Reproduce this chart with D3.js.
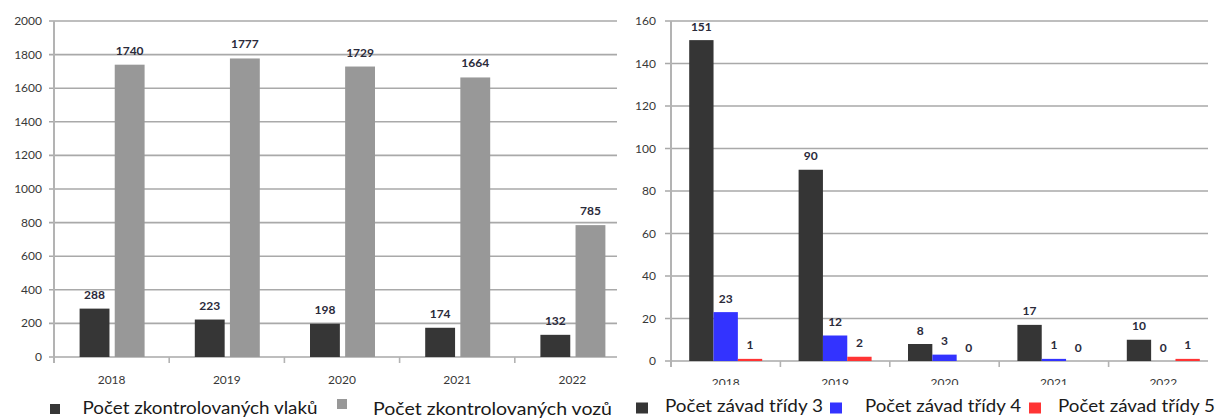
<!DOCTYPE html>
<html>
<head>
<meta charset="utf-8">
<script src="https://cdn.jsdelivr.net/npm/d3@7"></script>
<style>
  html, body { margin: 0; padding: 0; background: #fff; }
  svg { display: block; font-family: Lato, "Open Sans", sans-serif; }
</style>
</head>
<body>
<svg id="chart" width="1218" height="418"></svg>
<script>
// ---- data ----
const years = ["2018", "2019", "2020", "2021", "2022"];

// inspections: trains and wagons checked
const inspectSeries = ["Počet zkontrolovaných vlaků", "Počet zkontrolovaných vozů"];
const trainsChecked = [288, 223, 198, 174, 132];
const wagonsChecked = [1740, 1777, 1729, 1664, 785];
const inspectTicks = [0, 200, 400, 600, 800, 1000, 1200, 1400, 1600, 1800, 2000];

// defects by class
const defectSeries = ["Počet závad třídy 3", "Počet závad třídy 4", "Počet závad třídy 5"];
const defectsClass3 = [151, 90, 8, 17, 10];
const defectsClass4 = [23, 12, 3, 1, 0];
const defectsClass5 = [1, 2, 0, 0, 1];
const defectTicks = [0, 20, 40, 60, 80, 100, 120, 140, 160];

const svg = d3.select("#chart");
const GRID = "#a9a9a9", AXIS = "#b3b3b3", TXT = "#383838", LBL = "#2a2a3a";

// ================= left panel: inspections =================
{
  const left = 54, right = 630, gridEnd = 617, top = 21, bottom = 357;
  const x0 = d3.scaleBand().domain(years).range([left, right]);
  const y = d3.scaleLinear().domain([0, 2000]).range([bottom, top]);
  const colors = ["#363636", "#989898"];
  const values = [trainsChecked, wagonsChecked];
  const g = svg.append("g");

  // gridlines + tick labels
  g.selectAll("line.grid").data(inspectTicks).join("line")
    .attr("x1", left - 5).attr("x2", gridEnd)
    .attr("y1", d => y(d)).attr("y2", d => y(d))
    .attr("stroke", GRID).attr("stroke-width", 1.6);
  g.selectAll("text.yt").data(inspectTicks).join("text")
    .attr("x", 42).attr("y", d => y(d) + 4)
    .attr("text-anchor", "end").attr("font-size", 12).attr("fill", TXT)
    .text(d => d);

  // vertical axis line and category ticks
  g.append("line").attr("x1", left).attr("x2", left).attr("y1", top).attr("y2", bottom + 6)
    .attr("stroke", AXIS).attr("stroke-width", 2);
  g.selectAll("line.xt").data(years.slice(1)).join("line")
    .attr("x1", d => x0(d)).attr("x2", d => x0(d))
    .attr("y1", bottom).attr("y2", bottom + 6)
    .attr("stroke", AXIS).attr("stroke-width", 1.6);

  // bars
  years.forEach((yr, i) => {
    const c = x0(yr) + x0.bandwidth() / 2;
    const x1 = d3.scaleBand().domain(inspectSeries).range([c - 32, c + 33]).paddingInner(0.15);
    inspectSeries.forEach((s, k) => {
      const v = values[k][i];
      g.append("rect")
        .attr("x", x1(s)).attr("width", x1.bandwidth())
        .attr("y", y(v)).attr("height", y(0) - y(v))
        .attr("fill", colors[k]);
      g.append("text")
        .attr("x", x1(s) + x1.bandwidth() / 2).attr("y", y(v) - 10)
        .attr("text-anchor", "middle").attr("font-size", 12).attr("font-weight", "bold")
        .attr("fill", LBL).text(v);
    });
    g.append("text")
      .attr("x", c).attr("y", 383.5)
      .attr("text-anchor", "middle").attr("font-size", 12).attr("fill", TXT)
      .text(yr);
  });

  // legend
  const leg = [
    { sx: 50, sy: 404, tx: 82.5, ty: 413.5, w: 235 },
    { sx: 337, sy: 399, tx: 373, ty: 414.5, w: 239 }
  ];
  inspectSeries.forEach((s, k) => {
    g.append("rect").attr("x", leg[k].sx).attr("y", leg[k].sy)
      .attr("width", 10).attr("height", 10).attr("fill", colors[k]);
    g.append("text").attr("x", leg[k].tx).attr("y", leg[k].ty)
      .attr("font-size", 17).attr("fill", "#1a1a1a")
      .attr("textLength", leg[k].w).attr("lengthAdjust", "spacingAndGlyphs")
      .text(s);
  });
}

// ================= right panel: defects =================
{
  const left = 671, right = 1218, gridEnd = 1208, top = 21, bottom = 361;
  const x0 = d3.scaleBand().domain(years).range([left, right]);
  const y = d3.scaleLinear().domain([0, 160]).range([bottom, top]);
  const colors = ["#353535", "#3333ff", "#ff3434"];
  const values = [defectsClass3, defectsClass4, defectsClass5];
  const g = svg.append("g");

  // year labels of this panel are partly hidden behind the legend band
  svg.append("defs").append("clipPath").attr("id", "yearClip")
    .append("rect").attr("x", 620).attr("y", 0).attr("width", 598).attr("height", 385);

  g.selectAll("line.grid").data(defectTicks).join("line")
    .attr("x1", left - 6).attr("x2", gridEnd)
    .attr("y1", d => y(d)).attr("y2", d => y(d))
    .attr("stroke", GRID).attr("stroke-width", 1.6);
  g.selectAll("text.yt").data(defectTicks).join("text")
    .attr("x", 656).attr("y", d => y(d) + 4)
    .attr("text-anchor", "end").attr("font-size", 12).attr("fill", TXT)
    .text(d => d);

  g.append("line").attr("x1", left).attr("x2", left).attr("y1", top).attr("y2", bottom + 6)
    .attr("stroke", AXIS).attr("stroke-width", 2);
  g.selectAll("line.xt").data(years.slice(1)).join("line")
    .attr("x1", d => x0(d)).attr("x2", d => x0(d))
    .attr("y1", bottom).attr("y2", bottom + 6)
    .attr("stroke", AXIS).attr("stroke-width", 1.6);

  years.forEach((yr, i) => {
    const c = x0(yr) + x0.bandwidth() / 2;
    const x1 = d3.scaleBand().domain(defectSeries).range([c - 36.5, c + 36.5]);
    defectSeries.forEach((s, k) => {
      const v = values[k][i];
      g.append("rect")
        .attr("x", x1(s)).attr("width", x1.bandwidth())
        .attr("y", y(v)).attr("height", y(0) - y(v))
        .attr("fill", colors[k]);
      g.append("text")
        .attr("x", x1(s) + x1.bandwidth() / 2).attr("y", y(v) - 9.5)
        .attr("text-anchor", "middle").attr("font-size", 12).attr("font-weight", "bold")
        .attr("fill", LBL).text(v);
    });
    g.append("text")
      .attr("clip-path", "url(#yearClip)")
      .attr("x", c).attr("y", 387)
      .attr("text-anchor", "middle").attr("font-size", 12).attr("fill", TXT)
      .text(yr);
  });

  const leg = [
    { sx: 636, tx: 665, w: 158 },
    { sx: 830, tx: 865, w: 156 },
    { sx: 1029, tx: 1058, w: 157 }
  ];
  defectSeries.forEach((s, k) => {
    g.append("rect").attr("x", leg[k].sx).attr("y", 402.5)
      .attr("width", 12).attr("height", 11).attr("fill", colors[k]);
    g.append("text").attr("x", leg[k].tx).attr("y", 412)
      .attr("font-size", 16.5).attr("fill", "#1a1a1a")
      .attr("textLength", leg[k].w).attr("lengthAdjust", "spacingAndGlyphs")
      .text(s);
  });
}
</script>
</body>
</html>
